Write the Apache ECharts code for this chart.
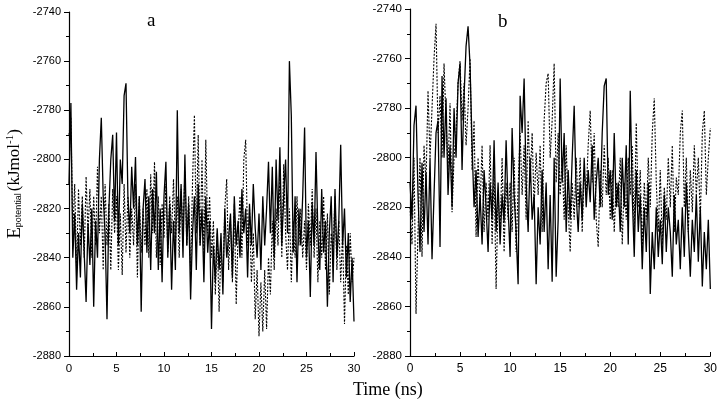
<!DOCTYPE html>
<html>
<head>
<meta charset="utf-8">
<script src="https://cdn.jsdelivr.net/npm/echarts@6/dist/echarts.min.js"></script>
<style>html,body{margin:0;padding:0;background:#fff}#c{width:720px;height:400px}</style>
</head>
<body>
<div id="c"></div>
<script>
// Time sampling (ns)
var TIME_START = 0, TIME_STEP = 0.2;
var yTicks = [-2880, -2860, -2840, -2820, -2800, -2780, -2760, -2740];
var xTicks = [0, 5, 10, 15, 20, 25, 30];
var panelLabels = ['a', 'b'];

// Panel a, solid line
var aSolid = [
-2810,-2777,-2840,-2822,-2853, -2830,-2848,-2818,-2838,-2858,
-2826,-2843,-2820,-2860,-2825, -2840,-2800,-2783,-2815,-2830,
-2865,-2820,-2800,-2790,-2825, -2789,-2835,-2800,-2810,-2774,
-2769,-2815,-2830,-2803,-2820, -2799,-2835,-2815,-2862,-2820,
-2808,-2838,-2815,-2845,-2812, -2830,-2805,-2845,-2820,-2850,
-2815,-2801,-2840,-2818,-2853, -2825,-2845,-2780,-2830,-2810,
-2840,-2798,-2835,-2818,-2857, -2830,-2815,-2845,-2810,-2835,
-2820,-2850,-2815,-2838,-2825, -2869,-2835,-2850,-2828,-2845,
-2830,-2855,-2820,-2840,-2832, -2822,-2848,-2815,-2835,-2825,
-2840,-2812,-2830,-2820,-2848, -2818,-2835,-2810,-2828,-2840,
-2822,-2845,-2815,-2835,-2820, -2801,-2830,-2803,-2840,-2800,
-2825,-2795,-2835,-2815,-2800, -2830,-2760,-2782,-2838,-2815,
-2850,-2820,-2835,-2815,-2787, -2840,-2825,-2856,-2818,-2835,
-2797,-2830,-2845,-2812,-2838, -2825,-2860,-2830,-2815,-2850,
-2812,-2840,-2825,-2794,-2835, -2820,-2848,-2830,-2858,-2840,
-2866];
// Panel a, dotted line
var aDotted = [
-2790,-2783,-2830,-2810,-2845, -2812,-2835,-2815,-2840,-2807,
-2830,-2812,-2840,-2815,-2835, -2803,-2830,-2815,-2845,-2810,
-2835,-2818,-2845,-2812,-2830, -2815,-2845,-2822,-2847,-2810,
-2838,-2815,-2840,-2820,-2835, -2810,-2848,-2815,-2838,-2820,
-2835,-2812,-2840,-2806,-2830, -2801,-2840,-2815,-2843,-2818,
-2832,-2810,-2838,-2815,-2830, -2808,-2835,-2815,-2840,-2812,
-2830,-2805,-2835,-2815,-2845, -2810,-2782,-2830,-2790,-2835,
-2800,-2840,-2792,-2830,-2815, -2840,-2825,-2855,-2830,-2862,
-2835,-2850,-2820,-2808,-2845, -2825,-2850,-2818,-2859,-2830,
-2815,-2840,-2800,-2792,-2835, -2820,-2850,-2830,-2865,-2845,
-2872,-2850,-2870,-2845,-2869, -2840,-2855,-2825,-2845,-2820,
-2835,-2806,-2840,-2802,-2830, -2845,-2820,-2850,-2825,-2840,
-2815,-2835,-2820,-2840,-2825, -2845,-2818,-2835,-2812,-2840,
-2820,-2850,-2825,-2840,-2815, -2845,-2822,-2855,-2830,-2838,
-2815,-2845,-2825,-2850,-2830, -2867,-2835,-2855,-2830,-2850,
-2840];
// Panel b, solid line
var bSolid = [
-2810,-2825,-2787,-2779,-2815, -2838,-2802,-2830,-2806,-2835,
-2800,-2841,-2815,-2790,-2785, -2836,-2767,-2800,-2776,-2815,
-2795,-2820,-2780,-2800,-2770, -2762,-2805,-2775,-2755,-2747,
-2763,-2795,-2820,-2805,-2832, -2815,-2835,-2805,-2820,-2838,
-2810,-2825,-2793,-2830,-2810, -2835,-2815,-2826,-2793,-2820,
-2840,-2788,-2815,-2830,-2851, -2775,-2790,-2768,-2810,-2830,
-2800,-2825,-2815,-2851,-2820, -2835,-2805,-2830,-2810,-2845,
-2815,-2850,-2800,-2848,-2825, -2768,-2810,-2790,-2830,-2805,
-2825,-2800,-2779,-2815,-2830, -2810,-2825,-2800,-2820,-2805,
-2818,-2795,-2825,-2810,-2800, -2820,-2790,-2771,-2768,-2815,
-2805,-2825,-2790,-2820,-2810, -2830,-2800,-2820,-2795,-2835,
-2773,-2815,-2840,-2805,-2830, -2815,-2845,-2820,-2838,-2810,
-2855,-2830,-2845,-2820,-2840, -2825,-2843,-2815,-2838,-2820,
-2830,-2848,-2815,-2835,-2825, -2845,-2820,-2840,-2810,-2830,
-2848,-2825,-2838,-2815,-2842, -2820,-2852,-2830,-2845,-2825,
-2853];
// Panel b, dotted line
var bDotted = [
-2820,-2835,-2800,-2863,-2830, -2800,-2840,-2795,-2810,-2773,
-2800,-2780,-2760,-2746,-2790, -2775,-2800,-2762,-2785,-2805,
-2778,-2822,-2800,-2790,-2770, -2761,-2785,-2770,-2795,-2780,
-2760,-2805,-2785,-2832,-2800, -2820,-2795,-2830,-2810,-2825,
-2795,-2835,-2805,-2853,-2815, -2830,-2800,-2838,-2810,-2825,
-2810,-2830,-2800,-2838,-2812, -2790,-2815,-2795,-2825,-2785,
-2810,-2790,-2820,-2798,-2815, -2795,-2830,-2785,-2770,-2766,
-2800,-2785,-2762,-2810,-2790, -2815,-2800,-2825,-2795,-2820,
-2838,-2810,-2825,-2800,-2820, -2800,-2830,-2805,-2815,-2795,
-2781,-2810,-2790,-2825,-2836, -2805,-2820,-2795,-2815,-2800,
-2825,-2805,-2830,-2810,-2820, -2800,-2835,-2810,-2825,-2800,
-2815,-2795,-2830,-2786,-2820, -2805,-2838,-2810,-2825,-2800,
-2820,-2790,-2776,-2810,-2830, -2805,-2835,-2812,-2825,-2800,
-2820,-2795,-2830,-2808,-2815, -2790,-2781,-2820,-2800,-2830,
-2805,-2822,-2795,-2815,-2800, -2825,-2790,-2781,-2815,-2800,
-2788];

function pairs(arr) {
  return arr.map(function (v, i) { return [+(TIME_START + i * TIME_STEP).toFixed(2), v]; });
}

var chart = echarts.init(document.getElementById('c'), null, { renderer: 'canvas' });

function plain(v) { return String(v); }

function xAxisCfg(idx, fs) {
  return {
    type: 'value', gridIndex: idx, min: xTicks[0], max: xTicks[xTicks.length - 1], interval: 5,
    axisLine: { show: true, lineStyle: { color: '#000', width: 1.2 } },
    axisTick: { show: true, inside: true, length: 4, lineStyle: { color: '#000' } },
    minorTick: { show: true, splitNumber: 2, length: 3, lineStyle: { color: '#000' } },
    axisLabel: { color: '#000', fontFamily: 'Liberation Sans', fontSize: fs, margin: 7, formatter: plain },
    splitLine: { show: false }
  };
}
function yAxisCfg(idx, fs, name) {
  return {
    type: 'value', gridIndex: idx, min: yTicks[0], max: yTicks[yTicks.length - 1], interval: 20,
    axisLine: { show: true, lineStyle: { color: '#000', width: 1.2 } },
    axisTick: { show: true, inside: false, length: 5, lineStyle: { color: '#000' } },
    minorTick: { show: true, splitNumber: 2, length: 3, lineStyle: { color: '#000' } },
    axisLabel: { color: '#000', fontFamily: 'Liberation Sans', fontSize: fs, margin: 8, formatter: plain },
    splitLine: { show: false },
    name: name || '',
    nameLocation: 'middle',
    nameRotate: 90,
    nameGap: 44,
    nameTextStyle: {
      color: '#000', fontFamily: 'Liberation Serif', fontSize: 18,
      rich: {
        E: { fontFamily: 'Liberation Serif', fontSize: 19, color: '#000' },
        sub: { fontFamily: 'Liberation Sans', fontSize: 9, color: '#000', padding: [8, 2, 0, 0] },
        p: { fontFamily: 'Liberation Serif', fontSize: 17, color: '#000' },
        sup: { fontFamily: 'Liberation Serif', fontSize: 11, color: '#000', padding: [0, 0, 9, 0] }
      }
    }
  };
}

function lineSeries(idx, arr, dotted) {
  return {
    type: 'line', xAxisIndex: idx, yAxisIndex: idx, data: pairs(arr),
    showSymbol: false, symbol: 'none', silent: true,
    lineStyle: { color: '#000', width: dotted ? 1.1 : 1.3, type: dotted ? [2, 1.5] : 'solid' },
    z: dotted ? 2 : 3
  };
}

chart.setOption({
  animation: false,
  backgroundColor: '#fff',
  grid: [
    { left: 69, right: 366, top: 12, bottom: 44 },
    { left: 410, right: 8, top: 9, bottom: 44 }
  ],
  title: [
    { text: panelLabels[0], left: 142, top: 7, textStyle: { fontFamily: 'Liberation Serif', fontSize: 19, fontWeight: 'normal', color: '#000' } },
    { text: panelLabels[1], left: 493, top: 8, textStyle: { fontFamily: 'Liberation Serif', fontSize: 19, fontWeight: 'normal', color: '#000' } },
    { text: 'Time (ns)', left: 348, top: 376, textStyle: { fontFamily: 'Liberation Serif', fontSize: 18, fontWeight: 'normal', color: '#000' } }
  ],
  xAxis: [xAxisCfg(0, 11.5), xAxisCfg(1, 12)],
  yAxis: [
    yAxisCfg(0, 11, '{E|E}{sub|potential}{p|(kJmol}{sup|-1}{p|)}'),
    yAxisCfg(1, 11.5)
  ],
  series: [
    lineSeries(0, aDotted, true),
    lineSeries(0, aSolid, false),
    lineSeries(1, bDotted, true),
    lineSeries(1, bSolid, false)
  ]
});
</script>
</body>
</html>
